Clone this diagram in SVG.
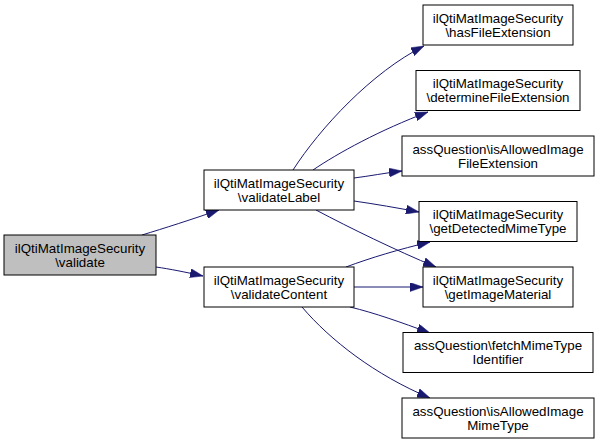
<svg xmlns="http://www.w3.org/2000/svg" width="599" height="444" viewBox="0 0 599 444">
<style>
.n rect{fill:#ffffff;stroke:#000000;stroke-width:1}
.n.root rect{fill:#bfbfbf}
.n text{font-family:"Liberation Sans",Arial,Helvetica,sans-serif;font-size:13.33px;text-anchor:middle;fill:#000000}
.e path{fill:none;stroke:#191970;stroke-width:1;marker-end:url(#ah)}
</style>
<defs>
<marker id="ah" viewBox="0 0 13 9" refX="13" refY="4.5" markerWidth="13" markerHeight="9" markerUnits="userSpaceOnUse" orient="auto">
<path d="M0,0 L13,4.5 L0,9 Z" fill="#191970" stroke="#191970" stroke-width="0.5"/>
</marker>
</defs>
<rect x="0" y="0" width="599" height="444" fill="#ffffff"/>
<g id="edges" class="e">
<path d="M142,235 C165,228 190,220 219,210"/>
<path d="M156,267 C170,269 185,272 203,276"/>
<path d="M293,170 C320,128 372,72 424,46"/>
<path d="M313,170 C338,153 380,130 428,112"/>
<path d="M354,178 C370,176 385,173 402,171"/>
<path d="M354,201 C375,204 398,208 419,212"/>
<path d="M316,210 C350,228 395,250 436,267"/>
<path d="M346,267 C370,258 400,249 430,242"/>
<path d="M354,287 L423,287"/>
<path d="M350,307 C375,313 400,322 430,333"/>
<path d="M302,307 C330,340 375,375 430,398"/>
</g>
<g id="validate" class="n root">
<rect x="4" y="235" width="152" height="40"/>
<text x="80" y="252.5">ilQtiMatImageSecurity</text>
<text x="80" y="266.5">\validate</text>
</g>
<g id="validateLabel" class="n">
<rect x="204" y="170" width="150" height="40"/>
<text x="279" y="187.5">ilQtiMatImageSecurity</text>
<text x="279" y="201.5">\validateLabel</text>
</g>
<g id="validateContent" class="n">
<rect x="204" y="267" width="150" height="40"/>
<text x="279" y="284.5">ilQtiMatImageSecurity</text>
<text x="279" y="298.5">\validateContent</text>
</g>
<g id="hasFileExtension" class="n">
<rect x="423" y="5" width="150" height="40"/>
<text x="498" y="22.5">ilQtiMatImageSecurity</text>
<text x="498" y="36.5">\hasFileExtension</text>
</g>
<g id="determineFileExtension" class="n">
<rect x="416" y="70.5" width="164" height="40"/>
<text x="498" y="88">ilQtiMatImageSecurity</text>
<text x="498" y="102">\determineFileExtension</text>
</g>
<g id="isAllowedImageFileExtension" class="n">
<rect x="402" y="136" width="192" height="40"/>
<text x="498" y="153.5">assQuestion\isAllowedImage</text>
<text x="498" y="167.5">FileExtension</text>
</g>
<g id="getDetectedMimeType" class="n">
<rect x="419" y="201.5" width="158" height="40"/>
<text x="498" y="219">ilQtiMatImageSecurity</text>
<text x="498" y="233">\getDetectedMimeType</text>
</g>
<g id="getImageMaterial" class="n">
<rect x="423" y="267" width="150" height="40"/>
<text x="498" y="284.5">ilQtiMatImageSecurity</text>
<text x="498" y="298.5">\getImageMaterial</text>
</g>
<g id="fetchMimeTypeIdentifier" class="n">
<rect x="403" y="332.5" width="190" height="40"/>
<text x="498" y="350">assQuestion\fetchMimeType</text>
<text x="498" y="364">Identifier</text>
</g>
<g id="isAllowedImageMimeType" class="n">
<rect x="402" y="398" width="192" height="40"/>
<text x="498" y="415.5">assQuestion\isAllowedImage</text>
<text x="498" y="429.5">MimeType</text>
</g>
</svg>
